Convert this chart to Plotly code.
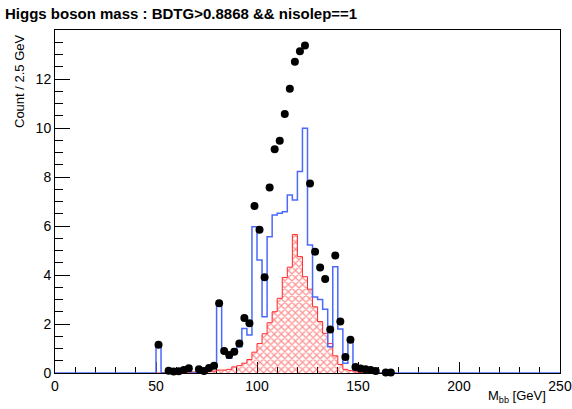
import plotly.graph_objects as go

# ---- data (2.5 GeV bins) ----
bin_width = 2.5
first_bin_low = 50.0          # first listed bin: 50-52.5 GeV
n_bins_total = 100            # 0-250 GeV

data_counts = [1.15, None, 0.09, 0.06, 0.07, 0.12, 0.19, None, 0.15, 0.08,
               0.20, 0.30, 2.85, 0.90, 0.73, 0.87, 1.20, 2.25, 2.03, 6.82,
               5.85, 3.91, 7.57, 9.13, 9.48, 10.57, 11.60, 12.70, 13.13, 13.37,
               7.73, 4.95, 4.31, 3.84, 1.78, 4.80, 2.10, 0.65, 1.36, 0.25,
               0.18, 0.15, 0.12, 0.08, None, 0.02, 0.02]

mc_total = [1.15, 0.0, 0.08, 0.05, 0.07, 0.12, 0.18, 0.0, 0.12, 0.08,
            0.20, 0.30, 2.85, 0.87, 0.60, 0.87, 1.07, 1.82, 1.55, 5.97,
            4.61, 2.30, 5.56, 6.45, 6.52, 6.58, 7.27, 7.06, 8.22, 9.99,
            5.22, 3.10, 3.00, 2.60, 1.07, 4.34, 1.80, 0.40, 1.32, 0.12,
            0.10, 0.10, 0.08, 0.05, 0.0, 0.0, 0.0]

signal = [0.0, 0.02, 0.02, 0.02, 0.03, 0.03, 0.03, 0.04, 0.04, 0.04,
          0.05, 0.08, 0.12, 0.12, 0.15, 0.25, 0.30, 0.40, 0.55, 0.85,
          1.20, 1.60, 2.05, 2.50, 3.05, 3.90, 4.32, 5.65, 4.75, 3.93,
          3.42, 2.70, 2.10, 1.62, 1.20, 0.70, 0.35, 0.15, 0.10, 0.05,
          0.03, 0.03, 0.03, 0.03, 0.0, 0.0, 0.0]

x_ticks = [0, 50, 100, 150, 200, 250]
y_ticks = [0, 2, 4, 6, 8, 10, 12]

# ---- build bin geometry ----
n = len(data_counts)
lows = [first_bin_low + i * bin_width for i in range(n)]
centers = [lo + bin_width / 2 for lo in lows]

first_idx = int(first_bin_low / bin_width)
full_mc = [0.0] * n_bins_total
for i, v in enumerate(mc_total):
    full_mc[first_idx + i] = v
full_edges = [i * bin_width for i in range(n_bins_total + 1)]
mc_x = full_edges
mc_y = full_mc + [full_mc[-1]]

sig_x = lows + [lows[-1] + bin_width]
sig_y = signal + [signal[-1]]

pts_x = [c for c, v in zip(centers, data_counts) if v is not None]
pts_y = [v for v in data_counts if v is not None]

BLUE = "rgb(75,105,250)"
RED = "rgb(255,40,40)"
FONT = "Helvetica, Liberation Sans, Arial, sans-serif"

L, R, T, B = 55, 12, 30, 36
W, H = 572, 409
PW, PH = W - L - R, H - T - B

fig = go.Figure()

fig.add_trace(go.Scatter(
    x=sig_x, y=sig_y, mode="lines", line=dict(shape="hv", color=RED, width=1),
    fill="tozeroy", fillcolor="rgba(0,0,0,0)",
    fillpattern=dict(shape="x", fgcolor=RED, size=5, solidity=0.45),
    hoverinfo="skip", showlegend=False))

fig.add_trace(go.Scatter(
    x=mc_x, y=mc_y, mode="lines", line=dict(shape="hv", color=BLUE, width=1.5),
    hoverinfo="skip", showlegend=False))

fig.add_trace(go.Scatter(
    x=pts_x, y=pts_y, mode="markers",
    marker=dict(color="black", size=8, symbol="circle"),
    cliponaxis=False, showlegend=False))

fig.update_layout(
    width=W, height=H,
    margin=dict(l=L, r=R, t=T, b=B, autoexpand=False),
    paper_bgcolor="white", plot_bgcolor="white",
    font=dict(family=FONT, size=14, color="black"),
    title=dict(text="<b>Higgs boson mass : BDTG&gt;0.8868 &amp;&amp; nisolep==1</b>",
               x=5 / W, xanchor="left", xref="container",
               y=1 - 14 / H, yanchor="middle", yref="container",
               font=dict(family=FONT, size=15, color="black")),
    xaxis=dict(range=[0, 250], tickmode="array", tickvals=x_ticks,
               ticks="inside", ticklen=11, tickcolor="black", tickwidth=1,
               minor=dict(tickmode="linear", tick0=0, dtick=10, ticks="inside",
                          ticklen=6, tickcolor="black"),
               showline=True, linecolor="black", linewidth=1, mirror=True,
               showgrid=False, zeroline=False, layer="below traces",
               ticklabeloverflow="allow", automargin=False,
               tickfont=dict(size=14)),
    yaxis=dict(range=[0, 14], tickmode="array", tickvals=y_ticks,
               ticks="inside", ticklen=15, tickcolor="black", tickwidth=1,
               minor=dict(tickmode="linear", tick0=0, dtick=0.5, ticks="inside",
                          ticklen=8, tickcolor="black"),
               showline=True, linecolor="black", linewidth=1, mirror=True,
               showgrid=False, zeroline=False, layer="below traces",
               automargin=False,
               tickfont=dict(size=14)),
    annotations=[
        dict(text="M<sub>bb</sub> [GeV]", xref="paper", yref="paper",
             x=(548 - L) / PW, y=(373 - 396) / PH, xanchor="right", yanchor="middle",
             showarrow=False, font=dict(size=13)),
        dict(text="Count / 2.5 GeV", xref="paper", yref="paper",
             x=(19 - L) / PW, y=(373 - 32) / PH, xanchor="center", yanchor="top",
             textangle=-90, showarrow=False, font=dict(size=13)),
    ],
)

fig.write_html("out.html")
